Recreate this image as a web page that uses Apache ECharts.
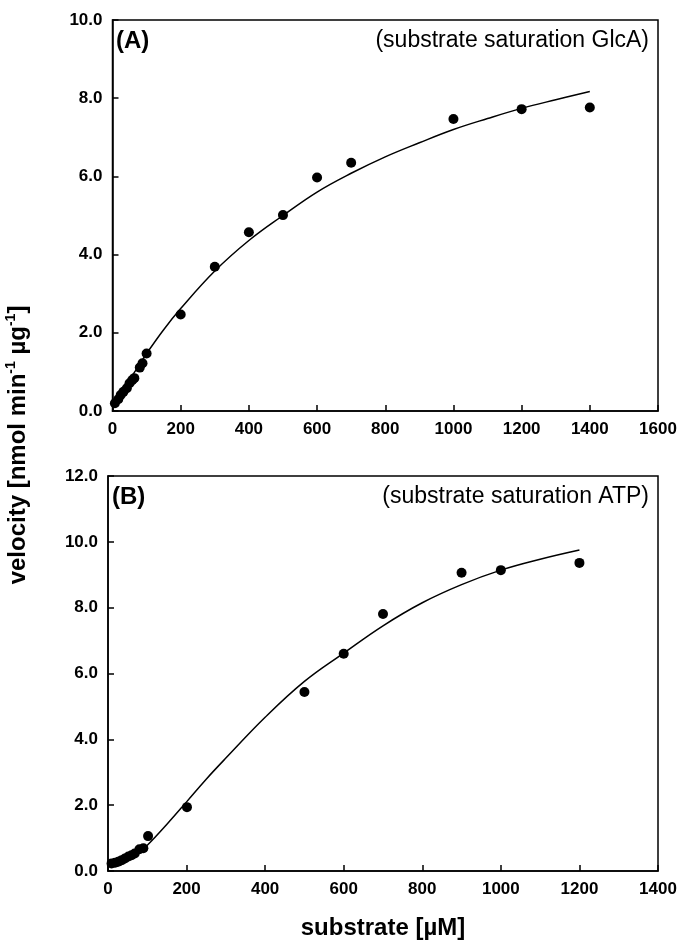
<!DOCTYPE html>
<html>
<head>
<meta charset="utf-8">
<script src="https://cdn.jsdelivr.net/npm/echarts@6/dist/echarts.min.js"></script>
<style>html,body{margin:0;padding:0;background:#fff;}#c{width:681px;height:943px;}</style>
</head>
<body>
<div id="c"></div>
<script>
// Panel A: substrate saturation GlcA
const aSubstrate = [7, 17, 24, 32, 42, 50, 58, 64, 80, 88, 100, 200, 300, 400, 500, 600, 700, 1000, 1200, 1400];
const aVelocity  = [0.20, 0.30, 0.41, 0.49, 0.58, 0.71, 0.79, 0.84, 1.11, 1.22, 1.47, 2.47, 3.69, 4.57, 5.01, 5.97, 6.35, 7.47, 7.72, 7.76];
const aFitX = [5, 25, 50, 75, 100, 150, 200, 300, 400, 500, 600, 700, 800, 900, 1000, 1100, 1200, 1300, 1400];
const aFitY = [0.15, 0.45, 0.80, 1.13, 1.47, 2.08, 2.62, 3.58, 4.36, 5.00, 5.60, 6.08, 6.50, 6.86, 7.20, 7.48, 7.74, 7.96, 8.17];

// Panel B: substrate saturation ATP
const bSubstrate = [9, 18, 26, 35, 43, 52, 60, 68, 80, 90, 102, 201, 500, 600, 700, 900, 1000, 1200];
const bVelocity  = [0.23, 0.25, 0.28, 0.33, 0.38, 0.44, 0.48, 0.53, 0.66, 0.69, 1.06, 1.94, 5.44, 6.60, 7.81, 9.06, 9.14, 9.36];
const bFitX = [5, 20, 40, 60, 80, 100, 150, 200, 250, 300, 400, 500, 600, 700, 800, 900, 1000, 1100, 1200];
const bFitY = [0.18, 0.22, 0.30, 0.42, 0.58, 0.78, 1.42, 2.10, 2.79, 3.43, 4.67, 5.76, 6.62, 7.45, 8.15, 8.70, 9.14, 9.47, 9.75];

// Axis ranges
const aXMax = 1600, bXMax = 1400, aYMax = 10, bYMax = 12;
const xTitle = 'substrate [µM]';
const panelA = ['(A)', '(substrate saturation GlcA)'];
const panelB = ['(B)', '(substrate saturation ATP)'];

const FONT = 'Liberation Sans, Arial, sans-serif';
const zip = (xs, ys) => xs.map((x, i) => [x, ys[i]]);

const axisCommon = {
  type: 'value',
  axisLine: { show: true, lineStyle: { color: '#000', width: 1.5 } },
  axisTick: { show: true, inside: true, length: 6, lineStyle: { color: '#000', width: 1.5 } },
  splitLine: { show: false },
  axisLabel: { color: '#000', fontFamily: FONT, fontWeight: 'bold', fontSize: 17 }
};
function xAxis(idx, max) {
  return Object.assign({}, axisCommon, {
    gridIndex: idx, min: 0, max: max, interval: 200,
    axisLabel: Object.assign({}, axisCommon.axisLabel, { margin: 10, formatter: v => String(v) })
  });
}
function yAxis(idx, max) {
  return Object.assign({}, axisCommon, {
    gridIndex: idx, min: 0, max: max, interval: 2,
    axisLabel: Object.assign({}, axisCommon.axisLabel, { margin: 10, formatter: v => v.toFixed(1) })
  });
}
const scatterStyle = { type: 'scatter', symbol: 'circle', symbolSize: 10, itemStyle: { color: '#000', opacity: 1 }, z: 3 };
const lineStyle = { type: 'line', smooth: 0.4, showSymbol: false, lineStyle: { color: '#000', width: 1.5 }, z: 2 };

const chart = echarts.init(document.getElementById('c'), null, { renderer: 'canvas' });
chart.setOption({
  animation: false,
  backgroundColor: '#fff',
  grid: [
    { left: 112.5, right: 23, top: 20, height: 391, show: true, borderColor: '#000', borderWidth: 1.5, backgroundColor: 'transparent' },
    { left: 108, right: 23, top: 476, height: 395, show: true, borderColor: '#000', borderWidth: 1.5, backgroundColor: 'transparent' }
  ],
  xAxis: [xAxis(0, aXMax), xAxis(1, bXMax)],
  yAxis: [yAxis(0, aYMax), yAxis(1, bYMax)],
  series: [
    Object.assign({}, lineStyle, { xAxisIndex: 0, yAxisIndex: 0, data: zip(aFitX, aFitY) }),
    Object.assign({}, scatterStyle, { xAxisIndex: 0, yAxisIndex: 0, data: zip(aSubstrate, aVelocity) }),
    Object.assign({}, lineStyle, { xAxisIndex: 1, yAxisIndex: 1, data: zip(bFitX, bFitY) }),
    Object.assign({}, scatterStyle, { xAxisIndex: 1, yAxisIndex: 1, data: zip(bSubstrate, bVelocity) })
  ],
  graphic: [
    { type: 'text', left: 116, top: 29, style: { text: panelA[0], font: 'bold 24px ' + FONT, fill: '#000' } },
    { type: 'text', right: 32, top: 29, style: { text: panelA[1], font: '23px ' + FONT, fill: '#000' } },
    { type: 'text', left: 112, top: 485, style: { text: panelB[0], font: 'bold 24px ' + FONT, fill: '#000' } },
    { type: 'text', right: 32, top: 485, style: { text: panelB[1], font: '23px ' + FONT, fill: '#000' } },
    { type: 'text', x: 383, y: 928, style: { text: xTitle, font: 'bold 24px ' + FONT, fill: '#000', textAlign: 'center', textVerticalAlign: 'middle' } },
    { type: 'text', x: 18, y: 445, rotation: Math.PI / 2,
      style: {
        text: 'velocity [nmol min{sup|-1} µg{sup|-1}]',
        fontFamily: FONT, fontWeight: 'bold', fontSize: 24, fill: '#000',
        align: 'center', verticalAlign: 'middle',
        rich: { sup: { fontFamily: FONT, fontWeight: 'bold', fontSize: 14, fill: '#000', verticalAlign: 'top', lineHeight: 28, padding: [0, 0, 10, 0] } }
      } }
  ]
});
</script>
</body>
</html>
